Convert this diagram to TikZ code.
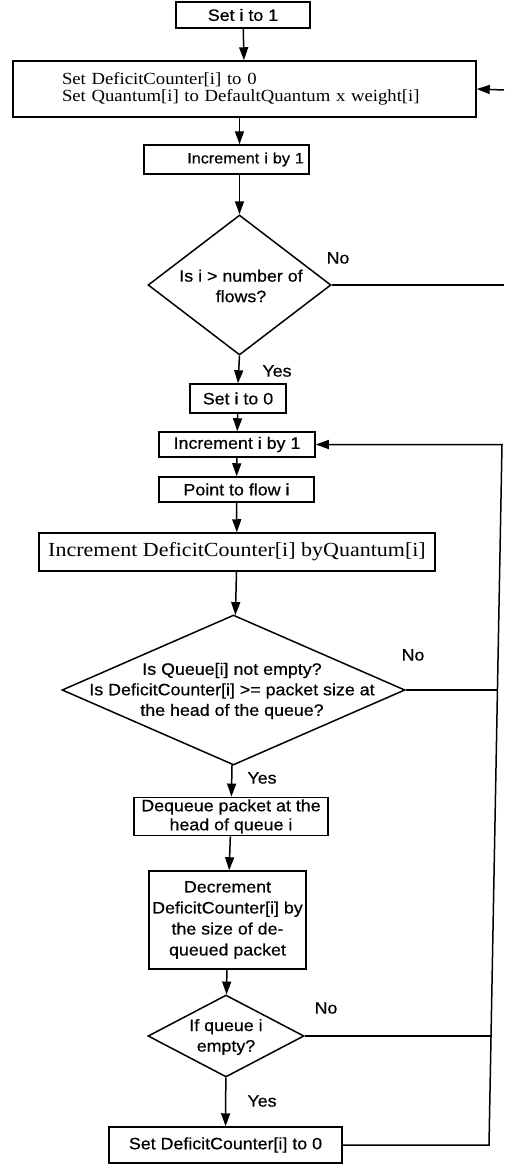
\documentclass[tikz,border=0pt]{standalone}
\usepackage{fontspec}
\usepackage{tikz}
\usetikzlibrary{shapes.geometric,arrows.meta}

\newfontfamily\chartsans[FakeStretch=1.08,FakeBold=0.5]{Liberation Sans}
\newfontfamily\chartserif[FakeStretch=1.1]{Liberation Serif}

\begin{document}
\begin{tikzpicture}[x=1pt, y=-1pt, line width=1.5pt,
        stepbox/.style={draw, rectangle, inner sep=2pt, align=center,
            font=\chartsans\fontsize{16.5}{20}\selectfont},
        listbox/.style={draw, rectangle, inner sep=3pt,
            font=\chartserif\fontsize{17}{16.5}\selectfont},
        decision/.style={draw, diamond, inner sep=0pt},
        question/.style={align=center, font=\chartsans\fontsize{16.5}{20.5}\selectfont},
        tag/.style={font=\chartsans\fontsize{16.5}{20}\selectfont},
        flow/.style={-{Triangle[length=13pt,width=9pt]}}]
        \path[use as bounding box, fill=white] (0,0) rectangle (504,1164);

        % set up the flows
        \node[stepbox, minimum width=134pt, minimum height=26pt] (start) at (243,15) {Set i to 1};
        \node[listbox, minimum width=463pt, minimum height=56pt, text width=365pt,
            inner xsep=49pt, align=left] (init) at (244.5,89)
        {Set DeficitCounter[i] to 0\\Set Quantum[i] to DefaultQuantum x weight[i]};
        \node[stepbox, minimum width=165pt, minimum height=29pt, text width=155pt,
            inner xsep=5pt, align=right, font=\chartsans\fontsize{15}{18}\selectfont]
        (inc1) at (226.5,159.5) {Increment i by 1};
        \node[decision, minimum width=183pt, minimum height=140pt] (d1) at (239.5,285) {};
        \node[question] (q1) at (241,286) {Is i > number of\\flows?};

        % round robin over the flows
        \node[stepbox, minimum width=96pt, minimum height=29pt] (zero) at (238,398.5) {Set i to 0};
        \node[stepbox, minimum width=156pt, minimum height=25pt] (inc2) at (237,444.5) {Increment i by 1};
        \node[stepbox, minimum width=155pt, minimum height=25pt] (point) at (236.5,489.5) {Point to flow i};
        \node[listbox, minimum width=396pt, minimum height=38pt,
            font=\chartserif\fontsize{20}{24}\selectfont] (incdc) at (237,552)
        {Increment DeficitCounter[i] byQuantum[i]};
        \node[decision, minimum width=343pt, minimum height=150pt] (d2) at (233.5,690) {};
        \node[question] (q2) at (232,691)
        {Is Queue[i] not empty?\\Is DeficitCounter[i] >= packet size at\\the head of the queue?};
        \node[stepbox, minimum width=194pt, minimum height=37pt,
            font=\chartsans\fontsize{16.5}{19}\selectfont] (deq) at (231,816.5)
        {Dequeue packet at the\\head of queue i};
        \node[stepbox, minimum width=157pt, minimum height=98pt, inner xsep=1pt,
            font=\chartsans\fontsize{16.5}{21}\selectfont] (dec) at (227.5,920)
        {Decrement\\DeficitCounter[i] by\\the size of de-\\queued packet};
        \node[decision, minimum width=156pt, minimum height=82pt] (d3) at (226,1036) {};
        \node[question] (q3) at (226,1037) {If queue i\\empty?};
        \node[stepbox, minimum width=233pt, minimum height=36pt] (zerodc) at (225.5,1145)
        {Set DeficitCounter[i] to 0};

        % branch labels
        \node[tag] (no1) at (338,258) {No};
        \node[tag] (yes1) at (277,371) {Yes};
        \node[tag] (no2) at (413,655) {No};
        \node[tag] (yes2) at (262,778) {Yes};
        \node[tag] (no3) at (326,1008) {No};
        \node[tag] (yes3) at (262,1101) {Yes};

        % corners of the return lines
        \coordinate (rimtop) at (504,90);
        \coordinate (rimbot) at (504,285);
        \coordinate (loopa) at (502,444.5);
        \coordinate (loopb) at (497.5,690);
        \coordinate (loopc) at (491,1036);
        \coordinate (loopd) at (489,1145);

        \draw[flow] (start) -- (init);
        \draw[flow] (init.south -| d1.north) -- (inc1.north -| d1.north);
        \draw[flow] (inc1.south -| d1.north) -- (d1.north);
        \draw[flow] (d1.south) -- (zero.north);
        \draw[flow] (zero) -- (inc2);
        \draw[flow] (inc2) -- (point);
        \draw[flow] (point) -- (incdc);
        \draw[flow] (incdc) -- (d2);
        \draw[flow] (d2) -- (deq);
        \draw[flow] (deq) -- (dec);
        \draw[flow] (dec) -- (d3);
        \draw[flow] (d3) -- (zerodc);

        \draw (d1.east) -- (rimbot);
        \draw[flow] (rimtop) -- (init.east);
        \draw (d2.east) -- (loopb);
        \draw (d3.east) -- (loopc);
        \draw[flow] (zerodc.east) -- (loopd) -- (loopa) -- (inc2.east);
\end{tikzpicture}
\end{document}
